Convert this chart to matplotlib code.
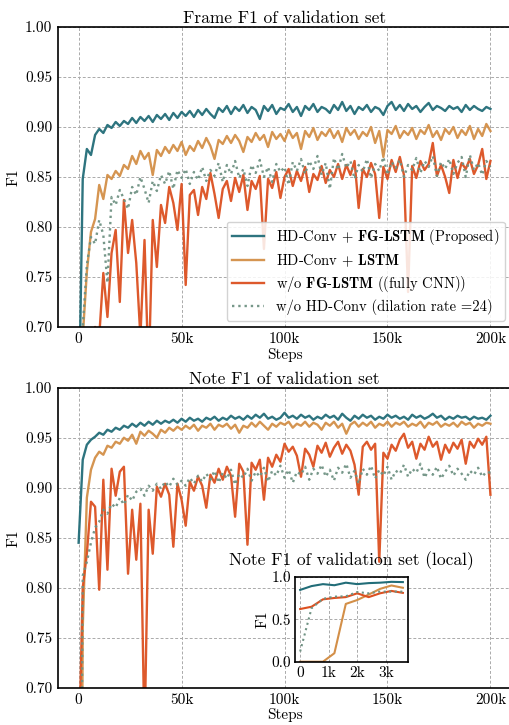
"""
Validation F1 curves (frame / note) for the HD-Conv + FG-LSTM ablation.
"""

import numpy as np
import matplotlib
matplotlib.use('Agg')
import matplotlib.pyplot as plt
from matplotlib.ticker import FixedLocator, FixedFormatter, FormatStrFormatter

plt.rcParams['font.family'] = 'serif'
plt.rcParams['font.serif'] = ['cmr10']
plt.rcParams['mathtext.fontset'] = 'cm'
plt.rcParams['axes.formatter.use_mathtext'] = True
plt.rcParams['axes.unicode_minus'] = False

# validation was run every 2k steps
steps = np.arange(0, 200001, 2000)

# ---- Frame F1 ----
frame_proposed = [
    0.600, 0.848, 0.878, 0.872, 0.892, 0.898, 0.894, 0.902, 0.899, 0.905,
    0.901, 0.906, 0.903, 0.909, 0.904, 0.910, 0.906, 0.911, 0.905, 0.912,
    0.908, 0.913, 0.907, 0.914, 0.909, 0.915, 0.911, 0.916, 0.910, 0.917,
    0.912, 0.918, 0.913, 0.909, 0.919, 0.915, 0.921, 0.913, 0.920, 0.916,
    0.922, 0.914, 0.920, 0.917, 0.908, 0.921, 0.916, 0.922, 0.913, 0.919,
    0.917, 0.923, 0.915, 0.920, 0.911, 0.921, 0.917, 0.923, 0.915, 0.920,
    0.918, 0.914, 0.922, 0.917, 0.925, 0.916, 0.921, 0.913, 0.920, 0.917,
    0.922, 0.915, 0.920, 0.918, 0.912, 0.921, 0.925, 0.917, 0.922, 0.916,
    0.923, 0.918, 0.921, 0.915, 0.920, 0.924, 0.917, 0.921, 0.919, 0.916,
    0.921, 0.918, 0.920, 0.915, 0.922, 0.917, 0.921, 0.918, 0.916, 0.920,
    0.918]
frame_lstm = [
    0.000, 0.690, 0.755, 0.795, 0.808, 0.842, 0.828, 0.852, 0.848, 0.856,
    0.851, 0.862, 0.858, 0.871, 0.863, 0.876, 0.868, 0.874, 0.852, 0.877,
    0.871, 0.880, 0.874, 0.882, 0.876, 0.885, 0.872, 0.881, 0.876, 0.886,
    0.879, 0.889, 0.881, 0.868, 0.887, 0.883, 0.891, 0.884, 0.892, 0.886,
    0.875, 0.890, 0.885, 0.894, 0.887, 0.892, 0.880, 0.895, 0.888, 0.893,
    0.886, 0.897, 0.889, 0.894, 0.878, 0.896, 0.890, 0.899, 0.887, 0.895,
    0.891, 0.898, 0.889, 0.896, 0.885, 0.899, 0.892, 0.897, 0.888, 0.895,
    0.891, 0.900, 0.884, 0.896, 0.870, 0.897, 0.893, 0.901, 0.889, 0.896,
    0.892, 0.899, 0.888, 0.897, 0.893, 0.902, 0.890, 0.896, 0.887, 0.898,
    0.893, 0.900, 0.889, 0.897, 0.892, 0.901, 0.888, 0.898, 0.891, 0.903,
    0.896]
frame_cnn = [
    0.300, 0.450, 0.600, 0.650, 0.700, 0.690, 0.754, 0.710, 0.774, 0.797,
    0.725, 0.827, 0.774, 0.807, 0.764, 0.690, 0.787, 0.650, 0.807, 0.760,
    0.822, 0.804, 0.840, 0.824, 0.797, 0.843, 0.742, 0.832, 0.837, 0.812,
    0.840, 0.828, 0.854, 0.833, 0.809, 0.838, 0.846, 0.826, 0.849, 0.835,
    0.852, 0.817, 0.846, 0.838, 0.851, 0.778, 0.848, 0.839, 0.855, 0.829,
    0.850, 0.858, 0.841, 0.856, 0.846, 0.860, 0.835, 0.853, 0.847, 0.861,
    0.844, 0.857, 0.850, 0.863, 0.848, 0.862, 0.852, 0.866, 0.819, 0.858,
    0.850, 0.864, 0.853, 0.809, 0.860, 0.848, 0.867, 0.855, 0.870, 0.852,
    0.735, 0.861, 0.849, 0.866, 0.857, 0.863, 0.884, 0.851, 0.862, 0.850,
    0.834, 0.867, 0.849, 0.864, 0.858, 0.868, 0.853, 0.862, 0.878, 0.848,
    0.866]
frame_dil24 = [
    0.300, 0.700, 0.762, 0.790, 0.783, 0.807, 0.792, 0.744, 0.830, 0.822,
    0.837, 0.828, 0.818, 0.840, 0.832, 0.850, 0.838, 0.824, 0.846, 0.836,
    0.852, 0.843, 0.856, 0.838, 0.857, 0.849, 0.858, 0.843, 0.855, 0.847,
    0.860, 0.846, 0.857, 0.851, 0.864, 0.845, 0.862, 0.853, 0.866, 0.849,
    0.858, 0.841, 0.862, 0.854, 0.867, 0.850, 0.860, 0.845, 0.863, 0.855,
    0.860, 0.842, 0.865, 0.856, 0.868, 0.853, 0.866, 0.858, 0.871, 0.852,
    0.864, 0.838, 0.869, 0.857, 0.873, 0.859, 0.866, 0.848, 0.862, 0.855,
    0.868, 0.849, 0.863, 0.856, 0.870, 0.852, 0.865, 0.859, 0.867, 0.850,
    0.862, 0.857, 0.869, 0.854, 0.866, 0.860, 0.871, 0.851, 0.865, 0.858,
    0.868, 0.853, 0.864, 0.870, 0.850, 0.872, 0.857, 0.864, 0.852, 0.866,
    0.860]

# ---- Note F1 ----
note_proposed = [
    0.845, 0.928, 0.943, 0.948, 0.951, 0.955, 0.953, 0.958, 0.956, 0.960,
    0.958, 0.962, 0.960, 0.964, 0.961, 0.965, 0.962, 0.966, 0.963, 0.967,
    0.964, 0.967, 0.965, 0.968, 0.965, 0.969, 0.966, 0.970, 0.967, 0.969,
    0.966, 0.970, 0.968, 0.971, 0.967, 0.970, 0.968, 0.972, 0.969, 0.971,
    0.968, 0.972, 0.969, 0.973, 0.970, 0.974, 0.969, 0.971, 0.968, 0.970,
    0.975, 0.970, 0.972, 0.969, 0.973, 0.970, 0.972, 0.968, 0.971, 0.969,
    0.973, 0.970, 0.972, 0.968, 0.974, 0.970, 0.967, 0.972, 0.969, 0.973,
    0.970, 0.972, 0.968, 0.971, 0.969, 0.973, 0.970, 0.972, 0.969, 0.971,
    0.968, 0.973, 0.970, 0.972, 0.969, 0.971, 0.974, 0.970, 0.972, 0.968,
    0.971, 0.969, 0.972, 0.970, 0.971, 0.968, 0.971, 0.969, 0.970, 0.968,
    0.972]
note_lstm = [
    0.000, 0.760, 0.890, 0.918, 0.930, 0.936, 0.933, 0.942, 0.940, 0.946,
    0.944, 0.950, 0.947, 0.953, 0.944, 0.956, 0.952, 0.957, 0.954, 0.950,
    0.958, 0.955, 0.960, 0.957, 0.961, 0.958, 0.962, 0.959, 0.963, 0.957,
    0.962, 0.960, 0.964, 0.958, 0.963, 0.961, 0.964, 0.959, 0.963, 0.955,
    0.962, 0.960, 0.965, 0.961, 0.966, 0.962, 0.958, 0.964, 0.961, 0.965,
    0.963, 0.966, 0.960, 0.964, 0.962, 0.966, 0.961, 0.965, 0.963, 0.958,
    0.965, 0.962, 0.966, 0.960, 0.964, 0.954, 0.963, 0.966, 0.961, 0.965,
    0.962, 0.966, 0.960, 0.964, 0.962, 0.966, 0.961, 0.965, 0.963, 0.966,
    0.961, 0.964, 0.962, 0.966, 0.960, 0.965, 0.963, 0.966, 0.961, 0.964,
    0.962, 0.965, 0.961, 0.966, 0.963, 0.965, 0.960, 0.964, 0.962, 0.965,
    0.964]
note_cnn = [
    0.620, 0.800, 0.834, 0.886, 0.881, 0.798, 0.908, 0.818, 0.919, 0.892,
    0.916, 0.921, 0.814, 0.878, 0.828, 0.884, 0.650, 0.878, 0.834, 0.901,
    0.891, 0.904, 0.893, 0.841, 0.904, 0.888, 0.862, 0.906, 0.897, 0.911,
    0.902, 0.880, 0.913, 0.905, 0.919, 0.908, 0.921, 0.912, 0.871, 0.924,
    0.916, 0.843, 0.925, 0.918, 0.928, 0.888, 0.930, 0.921, 0.933, 0.926,
    0.944, 0.936, 0.941, 0.932, 0.911, 0.939, 0.933, 0.921, 0.942, 0.935,
    0.945, 0.931, 0.940, 0.946, 0.934, 0.943, 0.937, 0.923, 0.893, 0.941,
    0.946, 0.938, 0.944, 0.826, 0.935, 0.929, 0.943, 0.937, 0.948, 0.954,
    0.940, 0.946, 0.929, 0.944, 0.938, 0.951, 0.941, 0.946, 0.928, 0.943,
    0.935, 0.945, 0.939, 0.948, 0.924, 0.946, 0.940, 0.949, 0.943, 0.951,
    0.893]
note_dil24 = [
    0.120, 0.812, 0.826, 0.845, 0.860, 0.866, 0.878, 0.874, 0.884, 0.880,
    0.890, 0.883, 0.893, 0.887, 0.896, 0.899, 0.892, 0.902, 0.897, 0.904,
    0.899, 0.906, 0.901, 0.909, 0.903, 0.907, 0.902, 0.910, 0.904, 0.912,
    0.906, 0.914, 0.908, 0.917, 0.905, 0.915, 0.909, 0.918, 0.903, 0.914,
    0.910, 0.919, 0.907, 0.916, 0.911, 0.920, 0.906, 0.917, 0.912, 0.922,
    0.910, 0.918, 0.905, 0.916, 0.913, 0.921, 0.908, 0.919, 0.914, 0.923,
    0.911, 0.918, 0.907, 0.920, 0.915, 0.924, 0.910, 0.917, 0.904, 0.919,
    0.913, 0.922, 0.909, 0.918, 0.912, 0.921, 0.908, 0.917, 0.914, 0.923,
    0.911, 0.919, 0.915, 0.924, 0.910, 0.918, 0.913, 0.921, 0.909, 0.916,
    0.922, 0.912, 0.919, 0.914, 0.908, 0.917, 0.913, 0.920, 0.911, 0.916,
    0.915]

# ---- Note F1, first few thousand steps (inset) ----
local_steps = [0, 400, 800, 1200, 1600, 2000, 2400, 2800, 3200, 3600]
local_proposed = [0.845, 0.890, 0.913, 0.900, 0.930, 0.913, 0.925, 0.930, 0.940, 0.937]
local_lstm = [0.000, 0.000, 0.000, 0.100, 0.680, 0.726, 0.790, 0.857, 0.897, 0.870]
local_cnn = [0.620, 0.647, 0.734, 0.750, 0.760, 0.805, 0.760, 0.805, 0.833, 0.810]
local_dil24 = [0.120, 0.630, 0.740, 0.766, 0.770, 0.820, 0.805, 0.825, 0.825, 0.825]

labels = [r'HD-Conv + $\mathbf{FG}$-$\mathbf{LSTM}$ (Proposed)',
          r'HD-Conv + $\mathbf{LSTM}$',
          r'w/o $\mathbf{FG}$-$\mathbf{LSTM}$ ((fully CNN))',
          r'w/o HD-Conv (dilation rate =24)']
colors = ['#226d78', '#d38f48', '#dc5020', '#6f9283']


def style_axes(ax):
    ax.set_xlim(-10000, 210000)
    ax.set_ylim(0.70, 1.00)
    ax.set_yticks(np.arange(0.70, 1.001, 0.05))
    ax.yaxis.set_major_formatter(FormatStrFormatter('%.2f'))
    ax.xaxis.set_major_locator(FixedLocator([0, 50000, 100000, 150000, 200000]))
    ax.xaxis.set_major_formatter(FixedFormatter(['0', '50k', '100k', '150k', '200k']))
    ax.grid(True, color='#aaaaaa', linestyle=(0, (3, 2)), linewidth=0.7)
    ax.set_axisbelow(True)
    for sp in ax.spines.values():
        sp.set_linewidth(1.2)
    ax.tick_params(labelsize=11, length=0, pad=4)
    ax.set_xlabel('Steps', fontsize=11, labelpad=1)
    ax.set_ylabel('F1', fontsize=11, labelpad=3)


def draw_curves(ax, series, lw=1.7):
    for i, ys in enumerate(series):
        ls = ':' if i == 3 else '-'
        ax.plot(steps[:len(ys)], ys, ls, color=colors[i], linewidth=lw,
                alpha=0.95, label=labels[i])


fig = plt.figure(figsize=(5.09, 7.25), dpi=100)

ax1 = fig.add_axes([0.114, 0.549, 0.89, 0.4138])
draw_curves(ax1, [frame_proposed, frame_lstm, frame_cnn, frame_dil24])
style_axes(ax1)
ax1.set_title('Frame F1 of validation set', fontsize=12.5, pad=3)
ax1.legend(loc='lower right', fontsize=10.5, framealpha=0.85,
           handlelength=2.2, borderaxespad=0.4, labelspacing=0.35)

ax2 = fig.add_axes([0.114, 0.0514, 0.89, 0.4138])
draw_curves(ax2, [note_proposed, note_lstm, note_cnn, note_dil24])
style_axes(ax2)
ax2.set_title('Note F1 of validation set', fontsize=12.5, pad=3)

# inset: very first validation points
axin = fig.add_axes([0.5796, 0.0873, 0.222, 0.1172])
for i, ys in enumerate([local_proposed, local_lstm, local_cnn, local_dil24]):
    ls = ':' if i == 3 else '-'
    axin.plot(local_steps, ys, ls, color=colors[i], linewidth=1.5)
axin.set_ylim(0.0, 1.0)
axin.set_xlim(-180, 3780)
axin.set_yticks([0.0, 0.5, 1.0])
axin.yaxis.set_major_formatter(FormatStrFormatter('%.1f'))
axin.xaxis.set_major_locator(FixedLocator([0, 1000, 2000, 3000]))
axin.xaxis.set_major_formatter(FixedFormatter(['0', '1k', '2k', '3k']))
axin.grid(True, color='#aaaaaa', linestyle=(0, (3, 2)), linewidth=0.7)
axin.tick_params(labelsize=11, length=0, pad=3)
for sp in axin.spines.values():
    sp.set_linewidth(1.2)
axin.set_ylabel('F1', fontsize=11, labelpad=1)
axin.set_title('Note F1 of validation set (local)', fontsize=12.5, pad=8)

fig.savefig('out.png', dpi=100)
